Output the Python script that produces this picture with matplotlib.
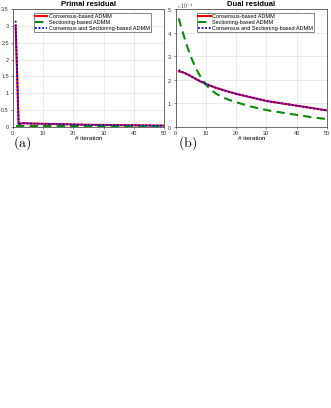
import numpy as np
import matplotlib
matplotlib.use('Agg')
import matplotlib.pyplot as plt
from matplotlib.ticker import ScalarFormatter

# iterations
iters = list(range(1, 51))

# primal residual
primal_consensus = [3.00, 0.07, 0.11, 0.11, 0.105, 0.10, 0.098, 0.096, 0.094, 0.092,
                    0.090, 0.088, 0.086, 0.084, 0.082, 0.080, 0.078, 0.076, 0.074, 0.072,
                    0.070, 0.068, 0.066, 0.064, 0.062, 0.061, 0.060, 0.059, 0.058, 0.057,
                    0.056, 0.055, 0.054, 0.053, 0.052, 0.051, 0.050, 0.049, 0.048, 0.047,
                    0.046, 0.045, 0.044, 0.043, 0.042, 0.041, 0.040, 0.039, 0.038, 0.037]
primal_sectioning = [0.012] * 50
primal_combined = [3.15] + primal_consensus[1:]

# dual residual (in units of 1e-4)
dual_consensus = [2.35, 2.33, 2.28, 2.22, 2.15, 2.08, 2.01, 1.94, 1.88, 1.82,
                  1.77, 1.72, 1.67, 1.63, 1.59, 1.55, 1.51, 1.47, 1.44, 1.40,
                  1.37, 1.34, 1.31, 1.28, 1.25, 1.22, 1.19, 1.16, 1.13, 1.10,
                  1.08, 1.06, 1.04, 1.02, 1.00, 0.98, 0.96, 0.94, 0.92, 0.90,
                  0.88, 0.86, 0.84, 0.82, 0.80, 0.78, 0.76, 0.74, 0.72, 0.70]
dual_sectioning = [4.60, 4.15, 3.72, 3.33, 2.98, 2.67, 2.40, 2.17, 1.97, 1.80,
                   1.66, 1.54, 1.44, 1.36, 1.29, 1.23, 1.18, 1.13, 1.09, 1.05,
                   1.01, 0.97, 0.93, 0.89, 0.86, 0.83, 0.80, 0.77, 0.74, 0.72,
                   0.69, 0.67, 0.65, 0.63, 0.61, 0.59, 0.57, 0.55, 0.53, 0.51,
                   0.49, 0.47, 0.45, 0.43, 0.41, 0.40, 0.38, 0.36, 0.35, 0.33]
dual_combined = [2.42] + dual_consensus[1:]
dual_scale = 1e-4

labels = ['Consensus-based ADMM', 'Sectioning-based ADMM',
          'Consensus and Sectioning-based ADMM']

plt.rcParams['font.family'] = ['Liberation Sans', 'DejaVu Sans']
plt.rcParams['mathtext.fontset'] = 'cm'

fig = plt.figure(figsize=(3.31, 4.08), dpi=100)
ax1 = fig.add_axes([0.038, 0.689, 0.458, 0.289])
ax2 = fig.add_axes([0.531, 0.689, 0.456, 0.289])


def draw(ax, a, b, c, scale=1.0):
    ax.plot(iters, np.array(a) * scale, color='red', lw=1.5, label=labels[0])
    ax.plot(iters, np.array(b) * scale, color='#0a8a0a', lw=1.5, ls=(0, (4, 2.5)),
            label=labels[1])
    ax.plot(iters, np.array(c) * scale, color='blue', lw=1.3, ls=(0, (1, 1)),
            label=labels[2])
    ax.set_xlim(0, 50)
    ax.set_xticks([0, 10, 20, 30, 40, 50])
    ax.grid(True, color='#e3e3e3', lw=0.5)
    ax.tick_params(labelsize=4, length=1.5, width=0.4, pad=1.2, colors='#333333')
    for s in ax.spines.values():
        s.set_linewidth(0.5)
        s.set_color('#333333')
    ax.set_xlabel('# iteration', fontsize=4.5, labelpad=0.5)
    leg = ax.legend(loc='upper left', bbox_to_anchor=(0.14, 0.97), fontsize=4,
                    handlelength=2.2, borderpad=0.25, labelspacing=0.15,
                    handletextpad=0.2, borderaxespad=0, fancybox=False,
                    framealpha=1)
    leg.get_frame().set_edgecolor('#555555')
    leg.get_frame().set_linewidth(0.5)


draw(ax1, primal_consensus, primal_sectioning, primal_combined)
ax1.set_ylim(0, 3.5)
ax1.set_yticks([0, 0.5, 1, 1.5, 2, 2.5, 3, 3.5])
ax1.set_yticklabels(['0', '0.5', '1', '1.5', '2', '2.5', '3', '3.5'])
ax1.set_title('Primal residual', fontsize=5.5, fontweight='bold', pad=2)

draw(ax2, dual_consensus, dual_sectioning, dual_combined, dual_scale)
ax2.set_ylim(0, 5e-4)
fmt = ScalarFormatter(useMathText=True)
fmt.set_powerlimits((0, 0))
ax2.yaxis.set_major_formatter(fmt)
ax2.yaxis.get_offset_text().set_visible(False)
fig.text(0.533, 0.972, r'$\times10^{-4}$', fontsize=4, color='#333333', va='bottom')
ax2.set_title('Dual residual', fontsize=5.5, fontweight='bold', pad=2)

fig.text(0.04, 0.64, r'$\mathrm{(a)}$', fontsize=10)
fig.text(0.537, 0.64, r'$\mathrm{(b)}$', fontsize=10)

fig.savefig('out.png', dpi=100, facecolor='white')
